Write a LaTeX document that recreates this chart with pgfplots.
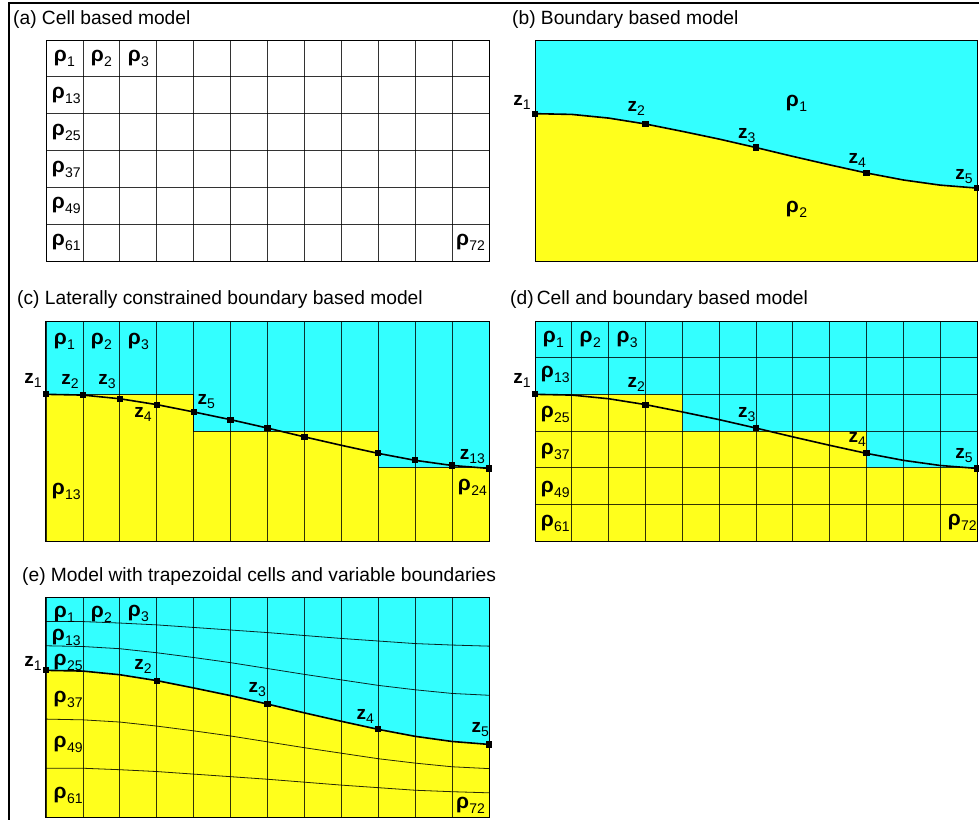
\documentclass[border=0pt]{standalone}
\usepackage{fontspec}
\setmainfont{Liberation Sans}
\usepackage{pgfplots}
\usepackage{pgfplotstable}
\pgfplotsset{compat=1.18}
\definecolor{cyn}{RGB}{51,255,255}
\definecolor{yel}{RGB}{255,255,28}
\newcommand{\rh}[1]{\fontsize{21}{21}\selectfont\textbf{ρ}\kern0.3pt\raisebox{-5pt}{\fontsize{14}{14}\selectfont #1}}
\newcommand{\zz}[1]{\fontsize{19}{19}\selectfont\textbf{z}\raisebox{-4pt}{\fontsize{14}{14}\selectfont #1}}
\pgfplotstableread{
x z l1 l2 l3 l4
0 2.00 0.67 1.33 3.33 4.67
1 2.02 0.67 1.35 3.35 4.67
2 2.12 0.71 1.41 3.41 4.71
3 2.28 0.76 1.52 3.52 4.76
4 2.48 0.83 1.65 3.65 4.83
5 2.69 0.90 1.79 3.79 4.90
6 2.92 0.97 1.95 3.95 4.97
7 3.16 1.05 2.11 4.11 5.05
8 3.39 1.13 2.26 4.26 5.13
9 3.61 1.20 2.41 4.41 5.20
10 3.80 1.27 2.53 4.53 5.27
11 3.94 1.31 2.63 4.63 5.31
12 4.02 1.34 2.68 4.68 5.34
}\curve
\pgfplotsset{panel/.style={scale only axis, width=443pt, height=221pt,
  xmin=0,xmax=12,ymin=0,ymax=6, y dir=reverse, axis on top, clip=false,
  xtick={0,...,12}, ytick={0,...,6}, xticklabels={}, yticklabels={},
  major tick length=0pt, grid=major,
  axis line style={line width=1pt, black},
  grid style={line width=0.8pt, black, opacity=0.8},
  anchor=north west}}
\tikzset{lab/.style={anchor=center, inner sep=0pt},
  bnd/.style={line width=1.6pt, black, mark=square*, mark size=2.3pt, mark options={solid}},
  thinl/.style={line width=0.8pt, black, opacity=0.85}}
\begin{document}
\begin{tikzpicture}
\path[use as bounding box] (0,0) rectangle (979pt,-820pt);
\draw[line width=2.5pt] (979pt,-3pt) -- (9pt,-3pt) -- (9pt,-820pt);
\fontsize{19.2}{22}\selectfont
\node[anchor=west, inner sep=0pt] at (13pt,-20pt) {(a) Cell based model};
\node[anchor=west, inner sep=0pt] at (512pt,-20pt) {(b) Boundary based model};
\node[anchor=west, inner sep=0pt] at (17pt,-300pt) {(c) Laterally constrained boundary based model};
\node[anchor=west, inner sep=0pt] at (510pt,-300pt) {(d)\,Cell and boundary based model};
\node[anchor=west, inner sep=0pt] at (22pt,-577pt) {(e) Model with trapezoidal cells and variable boundaries};

% (a)
\begin{axis}[panel, at={(46pt,-40pt)}]
\node[lab] at (axis cs:0.5,0.5) {\rh{1}};
\node[lab] at (axis cs:1.5,0.5) {\rh{2}};
\node[lab] at (axis cs:2.5,0.5) {\rh{3}};
\node[lab] at (axis cs:0.55,1.5) {\rh{13}};
\node[lab] at (axis cs:0.55,2.5) {\rh{25}};
\node[lab] at (axis cs:0.55,3.5) {\rh{37}};
\node[lab] at (axis cs:0.55,4.5) {\rh{49}};
\node[lab] at (axis cs:0.55,5.5) {\rh{61}};
\node[lab] at (axis cs:11.5,5.5) {\rh{72}};
\end{axis}

% (b)
\begin{axis}[panel, at={(535pt,-40pt)}, width=442pt, grid=none, xtick=\empty, ytick=\empty]
\addplot[fill=cyn, draw=none] coordinates {(0,0)(12,0)(12,6)(0,6)};
\addplot[fill=yel, draw=none] coordinates {(0,2.00)(1,2.02)(2,2.12)(3,2.28)(4,2.48)(5,2.69)(6,2.92)(7,3.16)(8,3.39)(9,3.61)(10,3.80)(11,3.94)(12,4.02)(12,6)(0,6)};
\addplot[bnd, mark indices={1,4,7,10,13}] table[x=x,y=z]{\curve};
\node[lab] at (axis cs:7.1,1.72) {\rh{1}};
\node[lab] at (axis cs:7.1,4.6) {\rh{2}};
\node[lab] at (axis cs:-0.35,1.7) {\zz{1}};
\node[lab] at (axis cs:2.75,1.85) {\zz{2}};
\node[lab] at (axis cs:5.75,2.6) {\zz{3}};
\node[lab] at (axis cs:8.75,3.27) {\zz{4}};
\node[lab] at (axis cs:11.65,3.7) {\zz{5}};
\end{axis}

% (c)
\begin{axis}[panel, at={(46pt,-321pt)}, height=220pt, ytick=\empty]
\addplot[fill=cyn, draw=none] coordinates {(0,0)(12,0)(12,6)(0,6)};
\addplot[fill=yel, draw=none] coordinates {(0,2)(4,2)(4,3)(9,3)(9,4)(12,4)(12,6)(0,6)};
\addplot[thinl] coordinates {(0,2)(4,2)(4,3)(9,3)(9,4)(12,4)};
\addplot[bnd, mark indices={1,2,3,4,5,6,7,8,10,11,12,13}] table[x=x,y=z]{\curve};
\node[lab] at (axis cs:0.5,0.55) {\rh{1}};
\node[lab] at (axis cs:1.5,0.55) {\rh{2}};
\node[lab] at (axis cs:2.5,0.55) {\rh{3}};
\node[lab] at (axis cs:0.55,4.65) {\rh{13}};
\node[lab] at (axis cs:11.55,4.55) {\rh{24}};
\node[lab] at (axis cs:-0.35,1.63) {\zz{1}};
\node[lab] at (axis cs:0.65,1.66) {\zz{2}};
\node[lab] at (axis cs:1.65,1.66) {\zz{3}};
\node[lab] at (axis cs:2.63,2.56) {\zz{4}};
\node[lab] at (axis cs:4.34,2.2) {\zz{5}};
\node[lab] at (axis cs:11.55,3.7) {\zz{13}};
\end{axis}

% (d)
\begin{axis}[panel, at={(535pt,-321pt)}, width=442pt, height=220pt]
\addplot[fill=cyn, draw=none] coordinates {(0,0)(12,0)(12,6)(0,6)};
\addplot[fill=yel, draw=none] coordinates {(0,2)(4,2)(4,3)(9,3)(9,4)(12,4)(12,6)(0,6)};
\addplot[bnd, mark indices={1,4,7,10,13}] table[x=x,y=z]{\curve};
\node[lab] at (axis cs:0.5,0.5) {\rh{1}};
\node[lab] at (axis cs:1.5,0.5) {\rh{2}};
\node[lab] at (axis cs:2.5,0.5) {\rh{3}};
\node[lab] at (axis cs:0.55,1.47) {\rh{13}};
\node[lab] at (axis cs:0.55,2.56) {\rh{25}};
\node[lab] at (axis cs:0.55,3.57) {\rh{37}};
\node[lab] at (axis cs:0.55,4.58) {\rh{49}};
\node[lab] at (axis cs:0.55,5.53) {\rh{61}};
\node[lab] at (axis cs:11.6,5.5) {\rh{72}};
\node[lab] at (axis cs:-0.35,1.63) {\zz{1}};
\node[lab] at (axis cs:2.75,1.72) {\zz{2}};
\node[lab] at (axis cs:5.75,2.56) {\zz{3}};
\node[lab] at (axis cs:8.75,3.24) {\zz{4}};
\node[lab] at (axis cs:11.65,3.68) {\zz{5}};
\end{axis}

% (e)
\begin{axis}[panel, at={(46pt,-597pt)}, height=220pt, ytick=\empty]
\addplot[fill=cyn, draw=none] coordinates {(0,0)(12,0)(12,6)(0,6)};
\addplot[fill=yel, draw=none] coordinates {(0,2.00)(1,2.02)(2,2.12)(3,2.28)(4,2.48)(5,2.69)(6,2.92)(7,3.16)(8,3.39)(9,3.61)(10,3.80)(11,3.94)(12,4.02)(12,6)(0,6)};
\addplot[thinl] table[x=x,y=l1]{\curve};
\addplot[thinl] table[x=x,y=l2]{\curve};
\addplot[thinl] table[x=x,y=l3]{\curve};
\addplot[thinl] table[x=x,y=l4]{\curve};
\addplot[bnd, mark indices={1,4,7,10,13}] table[x=x,y=z]{\curve};
\node[lab] at (axis cs:0.5,0.46) {\rh{1}};
\node[lab] at (axis cs:1.5,0.46) {\rh{2}};
\node[lab] at (axis cs:2.5,0.46) {\rh{3}};
\node[lab] at (axis cs:0.55,1.09) {\rh{13}};
\node[lab] at (axis cs:0.6,1.77) {\rh{25}};
\node[lab] at (axis cs:0.6,2.8) {\rh{37}};
\node[lab] at (axis cs:0.6,4.03) {\rh{49}};
\node[lab] at (axis cs:0.6,5.4) {\rh{61}};
\node[lab] at (axis cs:11.5,5.67) {\rh{72}};
\node[lab] at (axis cs:-0.35,1.8) {\zz{1}};
\node[lab] at (axis cs:2.63,1.9) {\zz{2}};
\node[lab] at (axis cs:5.72,2.53) {\zz{3}};
\node[lab] at (axis cs:8.65,3.27) {\zz{4}};
\node[lab] at (axis cs:11.76,3.62) {\zz{5}};
\end{axis}
\end{tikzpicture}
\end{document}
